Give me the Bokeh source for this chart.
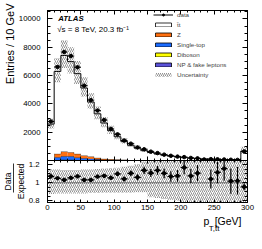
import numpy as np
from bokeh.plotting import figure
from bokeh.models import (Range1d, LinearAxis, SingleIntervalTicker, FixedTicker, Label, Legend,
                          LegendItem, Span, CustomJSTickFormatter, Title)
from bokeh.layouts import column
from bokeh.embed import file_html
from bokeh.resources import INLINE

# ---------------- data ----------------
bin_width = 10
bin_low = list(range(0, 300, 10))          # 30 bins of 10 GeV, last bin incl. overflow

data = [2758, 6611, 7665, 7381, 6588, 5289, 4266, 3531, 2857, 2228,
        1848, 1409, 1190, 924, 792, 627, 524, 415, 332, 275,
        240, 181, 153, 72, 97, 86, 73, 53, 44, 640]
ttbar = [2528, 5820, 6784, 6400, 5670, 4766, 3850, 3110, 2527, 2019,
         1611, 1298, 1035, 839, 671, 547, 445, 362, 300, 246,
         198, 162, 133, 109, 89, 75, 61, 50, 41, 641]
zjets = [15, 237, 336, 290, 258, 194, 150, 100, 65, 48,
         36, 27, 20, 15, 12, 9, 7, 6, 5, 4,
         3, 3, 2, 2, 2, 1, 1, 1, 1, 12]
single_top = [15, 190, 250, 250, 175, 130, 105, 72, 44, 32,
              24, 18, 14, 11, 8, 6, 5, 4, 3, 3,
              2, 2, 2, 1, 1, 1, 1, 1, 1, 10]
diboson = [2, 10, 12, 12, 10, 8, 6, 5, 4, 3,
           3, 2, 2, 2, 1, 1, 1, 1, 1, 1,
           1, 0, 0, 0, 0, 0, 0, 0, 0, 3]
np_fake = [10, 33, 38, 38, 27, 22, 19, 13, 10, 8,
           6, 5, 4, 3, 3, 2, 2, 2, 1, 1,
           1, 1, 1, 1, 1, 0, 0, 0, 0, 4]
# relative systematic uncertainty of the prediction (up / down)
unc_up = [0.15, 0.15, 0.145, 0.145, 0.145, 0.15, 0.15, 0.155, 0.16, 0.165,
          0.17, 0.18, 0.19, 0.21, 0.24, 0.27, 0.29, 0.30, 0.32, 0.33,
          0.35, 0.36, 0.38, 0.40, 0.42, 0.44, 0.45, 0.46, 0.47, 0.45]
unc_dn = [0.125, 0.12, 0.12, 0.12, 0.12, 0.12, 0.115, 0.115, 0.11, 0.11,
          0.11, 0.11, 0.11, 0.105, 0.105, 0.16, 0.17, 0.18, 0.19, 0.20,
          0.23, 0.24, 0.25, 0.27, 0.28, 0.29, 0.30, 0.31, 0.30, 0.30]

layer_names = ["NP & fake leptons", "Diboson", "Single-top", "Z", "t\u0304t"]
layer_values = [np_fake, diboson, single_top, zjets, ttbar]
layer_colors = ["#5b52d9", "#ffff00", "#1c6cff", "#ff7010", "#ffffff"]

FONT = "Liberation Sans"

lo = np.array(bin_low, dtype=float)
hi = lo + bin_width
ctr = lo + bin_width / 2.0
d = np.array(data, dtype=float)


def step_xy(vals):
    xs = np.repeat(np.append(lo, hi[-1]), 2)
    ys = np.concatenate([[0.0], np.repeat(np.asarray(vals, dtype=float), 2), [0.0]])
    return xs, ys


def style_axis(ax, major_in, minor_in, labels=True, size="7.8px", standoff=6):
    ax.axis_line_color = "black"
    ax.axis_line_width = 1
    ax.major_tick_in = major_in
    ax.major_tick_out = 0
    ax.minor_tick_in = minor_in
    ax.minor_tick_out = 0
    ax.major_tick_line_color = "black"
    ax.minor_tick_line_color = "black"
    ax.major_label_text_font = FONT
    ax.major_label_text_color = "black"
    if labels:
        ax.major_label_text_font_size = size
        ax.major_label_standoff = standoff
    else:
        ax.major_label_text_font_size = "0px"
        ax.major_label_standoff = 0


def side_title(text, size, align, offset=0, standoff=0, valign="bottom"):
    return Title(text=text, text_font=FONT, text_font_size=size, text_font_style="normal",
                 text_color="black", align=align, offset=offset, standoff=standoff,
                 vertical_align=valign)


fmt = CustomJSTickFormatter(code="return String(Math.round(tick * 1000) / 1000);")

# ---------------- main panel ----------------
p = figure(frame_width=200, frame_height=150,
           x_range=Range1d(0, 300), y_range=Range1d(0, 10600),
           x_axis_location=None, y_axis_location=None,
           min_border_left=42, min_border_right=16, min_border_top=10, min_border_bottom=0,
           output_backend="svg", toolbar_location=None)
p.outline_line_color = "black"
p.outline_line_width = 1
p.grid.visible = False

ax = LinearAxis(ticker=SingleIntervalTicker(interval=2000, num_minor_ticks=4),
                major_label_overrides={0: ""})
style_axis(ax, 5, 3, True, standoff=7)
p.add_layout(ax, "left")
p.add_layout(side_title("Entries / 10 GeV", "11px", "right", offset=-7), "left")
ax = LinearAxis(ticker=SingleIntervalTicker(interval=2000, num_minor_ticks=4))
style_axis(ax, 5, 3, False)
p.add_layout(ax, "right")
for loc in ("below", "above"):
    ax = LinearAxis(ticker=SingleIntervalTicker(interval=50, num_minor_ticks=5))
    style_axis(ax, 4, 2, False)
    p.add_layout(ax, loc)

bottom = np.zeros(len(lo))
legend_stack = {}
for name, vals, col in zip(layer_names, layer_values, layer_colors):
    v = np.array(vals, dtype=float)
    # legend proxy (not drawn in the plot, only in the legend)
    legend_stack[name] = p.quad(left=lo, right=hi, bottom=bottom, top=bottom + v,
                                fill_color=col, line_color="black", line_width=0.8,
                                visible=False)
    p.quad(left=lo, right=hi, bottom=bottom, top=bottom + v, fill_color=col, line_color=None)
    bottom = bottom + v
    xs, ys = step_xy(bottom)
    p.line(xs, ys, line_color="black", line_width=1.0 if name == "t\u0304t" else 0.6)
total = bottom

up = np.array(unc_up)
dn = np.array(unc_dn)
unc_r = p.quad(left=lo, right=hi, bottom=total * (1 - dn), top=total * (1 + up),
               fill_color=None, line_color=None, hatch_pattern="/", hatch_color="#444444",
               hatch_scale=4, hatch_weight=0.6)

err = np.sqrt(d)
p.segment(ctr, d - err, ctr, d + err, line_color="black", line_width=1)
data_h = p.segment(lo, d, hi, d, line_color="black", line_width=1)
data_c = p.scatter(ctr, d, size=3.5, marker="circle", color="black")

legend = Legend(items=[
    LegendItem(label="data", renderers=[data_h, data_c]),
    LegendItem(label="t\u0304t", renderers=[legend_stack["t\u0304t"]]),
    LegendItem(label="Z", renderers=[legend_stack["Z"]]),
    LegendItem(label="Single-top", renderers=[legend_stack["Single-top"]]),
    LegendItem(label="Diboson", renderers=[legend_stack["Diboson"]]),
    LegendItem(label="NP & fake leptons", renderers=[legend_stack["NP & fake leptons"]]),
    LegendItem(label="Uncertainty", renderers=[unc_r]),
], location=(106, 82.5))
legend.label_text_font = FONT
legend.label_text_font_size = "6.2px"
legend.glyph_width = 20
legend.glyph_height = 5
legend.label_height = 5
legend.label_standoff = 4
legend.spacing = 3
legend.padding = 0
legend.margin = 0
legend.border_line_color = None
legend.background_fill_alpha = 0
legend.inactive_fill_alpha = 0
p.add_layout(legend)

p.add_layout(Label(x=10.7, y=142.2, x_units="screen", y_units="screen", text="ATLAS",
                   text_font=FONT, text_font_style="bold italic", text_font_size="7.8px",
                   text_baseline="middle", text_color="black"))
p.add_layout(Label(x=9.7, y=130.7, x_units="screen", y_units="screen",
                   text="\u221as = 8 TeV, 20.3 fb\u207b\u00b9",
                   text_font=FONT, text_font_size="8px",
                   text_baseline="middle", text_color="black"))

# ---------------- ratio panel ----------------
r = figure(frame_width=200, frame_height=42,
           x_range=p.x_range, y_range=Range1d(0.78, 1.25),
           x_axis_location=None, y_axis_location=None,
           min_border_left=42, min_border_right=16, min_border_top=0, min_border_bottom=40,
           output_backend="svg", toolbar_location=None)
r.outline_line_color = "black"
r.outline_line_width = 1
r.grid.visible = False

ax = LinearAxis(ticker=SingleIntervalTicker(interval=0.2, num_minor_ticks=4), formatter=fmt)
style_axis(ax, 5, 3, True, standoff=8)
r.add_layout(ax, "left")
r.add_layout(side_title("Expected", "8.5px", "center"), "left")
bar = LinearAxis(ticker=FixedTicker(ticks=[]), bounds=(0.895, 1.216))
style_axis(bar, 0, 0, False)
bar.axis_line_width = 0.8
r.add_layout(bar, "left")
r.add_layout(side_title("Data", "8.5px", "center", standoff=1), "left")

ax = LinearAxis(ticker=SingleIntervalTicker(interval=0.2, num_minor_ticks=4))
style_axis(ax, 5, 3, False)
r.add_layout(ax, "right")
ax = LinearAxis(ticker=SingleIntervalTicker(interval=50, num_minor_ticks=5))
style_axis(ax, 3, 2, True, standoff=2)
r.add_layout(ax, "below")
r.add_layout(side_title("p\u2002[GeV]", "10.5px", "right", offset=6), "below")
r.add_layout(side_title("T,t\u0304t", "8px", "right", offset=28, standoff=-5,
                        valign="top"), "below")
ax = LinearAxis(ticker=SingleIntervalTicker(interval=50, num_minor_ticks=5))
style_axis(ax, 3, 2, False)
r.add_layout(ax, "above")

r.quad(left=lo, right=hi, bottom=1 - dn, top=1 + up, fill_color=None, line_color=None,
       hatch_pattern="/", hatch_color="#444444", hatch_scale=4, hatch_weight=0.6)
r.add_layout(Span(location=1.0, dimension="width", line_color="black",
                  line_dash="1 1", line_width=1))

ratio = d / total
rerr = err / total
r.segment(ctr, ratio - rerr, ctr, ratio + rerr, line_color="black", line_width=1.2)
r.segment(lo, ratio, hi, ratio, line_color="black", line_width=1.2)
r.scatter(ctr, ratio, size=3.5, marker="circle", color="black")

layout = column(p, r)
open("out.html", "w").write(file_html(layout, INLINE))
